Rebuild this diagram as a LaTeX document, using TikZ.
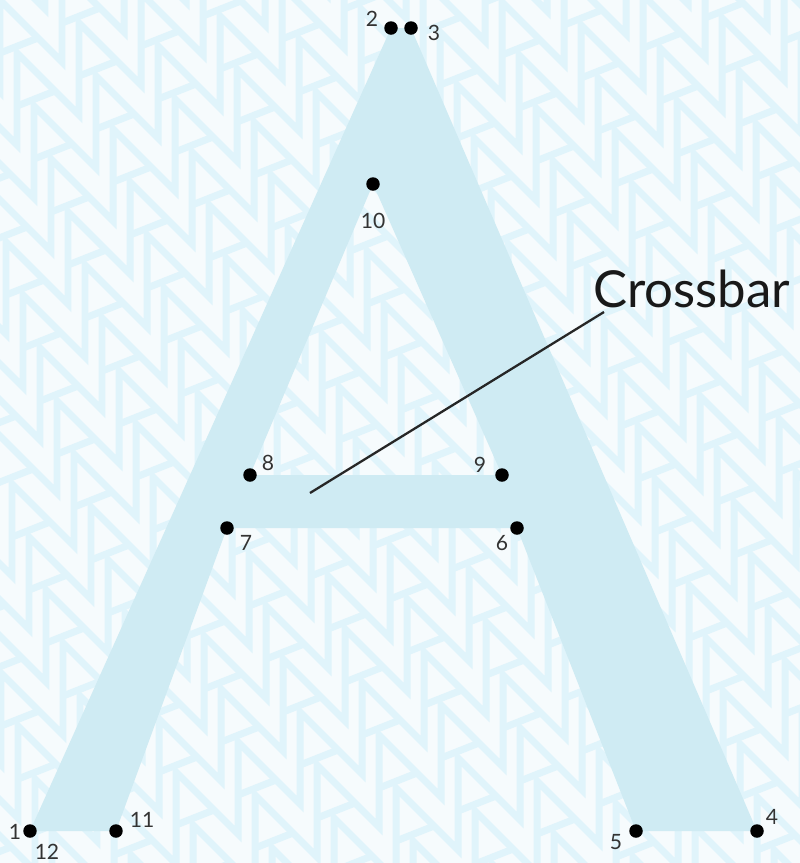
\documentclass[tikz,border=0pt]{standalone}
\usepackage{fontspec}
\setmainfont{Lato}
\definecolor{paper}{HTML}{F6FBFD}
\definecolor{zigzag}{HTML}{E0F4FB}
\definecolor{glyph}{HTML}{CFEBF3}
\definecolor{ink}{HTML}{333333}
\tikzset{
  dot/.style={circle, fill=black, inner sep=0pt, minimum size=0.27cm},
  num/.style={text=ink, font=\fontsize{12}{12}\selectfont, inner sep=0pt},
  title/.style={text=black!90, font=\fontsize{29}{29}\selectfont, inner sep=0pt},
  zig/.style={draw=zigzag, line width=0.14cm, miter limit=10},
  leader/.style={line width=1.3pt, black!85}
}
\begin{document}
\begin{tikzpicture}[x=0.02cm, y=-0.02cm]
    \useasboundingbox (0,0) rectangle (800,863);
    \fill[paper] (0,0) rectangle (800,863);
    % zigzag background
    \begin{scope}
        \clip (0,0) rectangle (800,863);
        \foreach \j in {-2,...,26}{
            \draw[zig] ({17*(\j)-62*9},{53*(\j)+30*9+92})
                \foreach \k in {-9,...,13}{ -- ({17*(\j)+62*(\k)},{53*(\j)-30*(\k)+92}) -- ({17*(\j)+62*(\k)},{53*(\j)-30*(\k)}) };
            \draw[zig] \foreach \k in {-9,...,13}{ ({17*(\j)+62*(\k)},{53*(\j)-30*(\k)+53}) -- ({17*(\j)+62*(\k)+38},{53*(\j)-30*(\k)+38}) };
        }
    \end{scope}
    % letter outline points
    \coordinate (c1) at (30,831);
    \coordinate (c2) at (391,28);
    \coordinate (c3) at (411,28);
    \coordinate (c4) at (757,831);
    \coordinate (c5) at (636,831);
    \coordinate (c6) at (517,528);
    \coordinate (c7) at (227,528);
    \coordinate (c8) at (250,475);
    \coordinate (c9) at (502,475);
    \coordinate (c10) at (373,184);
    \coordinate (c11) at (116,831);
    \fill[glyph, even odd rule] (c1) -- (c2) -- (c3) -- (c4) -- (c5) -- (c6) -- (c7) -- (c11) -- cycle
        (c8) -- (c9) -- (c10) -- cycle;
    \foreach \i in {1,...,11}
        \node[dot] (p\i) at (c\i) {};
    \node[num] (n1) at (15,832) {1};
    \node[num] (n12) at (47,852) {12};
    \node[num] (n2) at (372,19) {2};
    \node[num] (n3) at (434,33) {3};
    \node[num] (n4) at (772,817) {4};
    \node[num] (n5) at (616,842) {5};
    \node[num] (n6) at (502,543) {6};
    \node[num] (n7) at (246,543) {7};
    \node[num] (n8) at (268,463) {8};
    \node[num] (n9) at (480,465) {9};
    \node[num] (n10) at (373,221) {10};
    \node[num] (n11) at (142,820) {11};
    % crossbar label
    \coordinate (bar) at (310,493);
    \node[title, anchor=base west] (crossbar) at (593,307) {Crossbar};
    \draw[leader] (bar) -- ([xshift=0.22cm, yshift=-0.1cm]crossbar.base west);
\end{tikzpicture}
\end{document}
